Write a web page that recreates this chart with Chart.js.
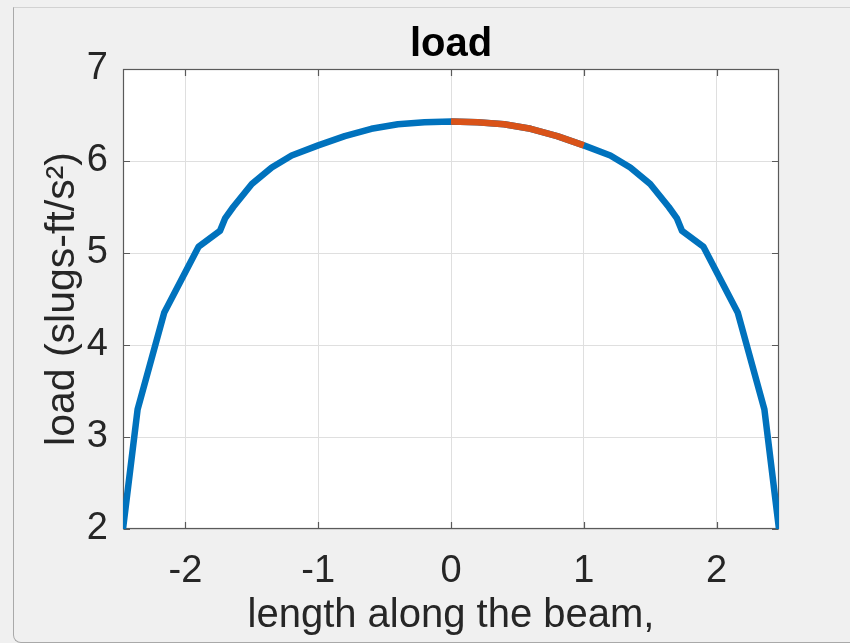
<!DOCTYPE html>
<html><head><meta charset="utf-8">
<script src="https://cdn.jsdelivr.net/npm/chart.js@4"></script>
<style>
html,body{margin:0;padding:0;background:#f0f0f0;overflow:hidden;width:850px;height:643px;}
#frame{position:absolute;left:13px;top:7px;width:860px;height:634px;border-top:1px solid #d2d2d2;border-left:1px solid #a9a9a9;border-bottom:1px solid #a9a9a9;border-bottom-left-radius:8px;}
canvas{position:absolute;left:0;top:0;}
</style></head><body>
<div id="frame"></div>
<canvas id="c" width="850" height="643"></canvas>
<script>
const titleText = 'load';
const xLabel = 'length along the beam,';
const yLabel = 'load (slugs-ft/s\u00B2)';
const xTickValues = [-2, -1, 0, 1, 2];
const yTickValues = [2, 3, 4, 5, 6, 7];
const loadX = [-2.47, -2.36, -2.16, -1.90, -1.74, -1.70, -1.64, -1.50, -1.35, -1.20, -1.00, -0.80, -0.60, -0.40, -0.20, 0.00,
               0.20, 0.40, 0.60, 0.80, 1.00, 1.20, 1.35, 1.50, 1.64, 1.70, 1.74, 1.90, 2.16, 2.36, 2.47];
const loadY = [2.00, 3.30, 4.35, 5.07, 5.24, 5.38, 5.50, 5.75, 5.93, 6.06, 6.17, 6.27, 6.35, 6.40, 6.42, 6.43,
               6.42, 6.40, 6.35, 6.27, 6.17, 6.06, 5.93, 5.75, 5.50, 5.38, 5.24, 5.07, 4.35, 3.30, 2.00];
const segX = [0.00, 0.20, 0.40, 0.60, 0.80, 1.00];
const segY = [6.43, 6.42, 6.40, 6.35, 6.27, 6.17];

const FAMILY = "'Liberation Sans', Arial, Helvetica, sans-serif";
const AXIS_COLOR = '#5a5a5a';

const toPts = (xs, ys) => xs.map((x, i) => ({x: x, y: ys[i]}));

const frameBoxPlugin = {
  id: 'frameBox',
  afterLayout(chart) {
    const tb = chart.titleBlock;
    if (tb) {
      tb.left = chart.chartArea.left;
      tb.right = chart.chartArea.right;
    }
  },
  beforeDraw(chart) {
    const {ctx, chartArea: a} = chart;
    ctx.save();
    ctx.fillStyle = '#ffffff';
    ctx.fillRect(a.left, a.top, a.right - a.left, a.bottom - a.top);
    ctx.restore();
  },
  beforeDatasetsDraw(chart) {
    const {ctx, chartArea: a, scales} = chart;
    const L = Math.round(a.left) + 0.5, R = Math.round(a.right) - 0.5;
    const T = Math.round(a.top) + 0.5, B = Math.round(a.bottom) - 0.5;
    ctx.save();
    ctx.strokeStyle = AXIS_COLOR;
    ctx.lineWidth = 1.2;
    ctx.strokeRect(L, T, R - L, B - T);
    const tl = 6.5;
    ctx.beginPath();
    scales.x.ticks.forEach(t => {
      const px = Math.round(scales.x.getPixelForValue(t.value)) + 0.5;
      ctx.moveTo(px, B); ctx.lineTo(px, B - tl);
      ctx.moveTo(px, T); ctx.lineTo(px, T + tl);
    });
    scales.y.ticks.forEach(t => {
      const py = Math.round(scales.y.getPixelForValue(t.value)) + 0.5;
      ctx.moveTo(L, py); ctx.lineTo(L + tl, py);
      ctx.moveTo(R, py); ctx.lineTo(R - tl, py);
    });
    ctx.stroke();
    ctx.restore();
  }
};

new Chart(document.getElementById('c'), {
  type: 'line',
  data: {
    datasets: [
      {
        data: toPts(segX, segY),
        borderColor: '#D95319',
        borderWidth: 6.5,
        pointRadius: 0,
        tension: 0,
        fill: false,
        clip: 0,
        borderJoinStyle: 'round'
      },
      {
        data: toPts(loadX, loadY),
        borderColor: '#0072BD',
        borderWidth: 6.5,
        pointRadius: 0,
        tension: 0,
        fill: false,
        clip: 0,
        borderJoinStyle: 'round'
      }
    ]
  },
  options: {
    responsive: false,
    animation: false,
    devicePixelRatio: 1,
    layout: {padding: {left: 0, top: 0, right: 71, bottom: 0}},
    plugins: {
      legend: {display: false},
      tooltip: {enabled: false},
      title: {
        display: true, text: titleText, color: '#000000',
        font: {family: FAMILY, size: 40, weight: 'bold', lineHeight: 1.2},
        padding: {top: 21, bottom: 0}
      }
    },
    scales: {
      x: {
        type: 'linear', min: -2.47, max: 2.47,
        afterBuildTicks: s => { s.ticks = xTickValues.map(v => ({value: v})); },
        afterFit: s => { s.height = 114; },
        ticks: {color: '#262626', font: {family: FAMILY, size: 38, lineHeight: 1.2}, padding: 20,
                maxRotation: 0, autoSkip: false, includeBounds: false, callback: v => String(v)},
        grid: {color: '#dfdfdf', lineWidth: 1, drawTicks: false},
        border: {display: false},
        title: {display: true, text: xLabel, color: '#262626',
                font: {family: FAMILY, size: 40, lineHeight: 1.2}, padding: {top: 0, bottom: 3}}
      },
      y: {
        type: 'linear', min: 2, max: 7,
        afterBuildTicks: s => { s.ticks = yTickValues.map(v => ({value: v})); },
        afterFit: s => { s.width = 123; },
        ticks: {color: '#262626', font: {family: FAMILY, size: 38, lineHeight: 1.2}, padding: 15,
                autoSkip: false, includeBounds: false, callback: v => String(v)},
        grid: {color: '#dfdfdf', lineWidth: 1, drawTicks: false},
        border: {display: false},
        title: {display: true, text: yLabel, color: '#262626',
                font: {family: FAMILY, size: 41, lineHeight: 1.2}, padding: {top: 38, bottom: 0}}
      }
    }
  },
  plugins: [frameBoxPlugin]
});
</script>
</body></html>
